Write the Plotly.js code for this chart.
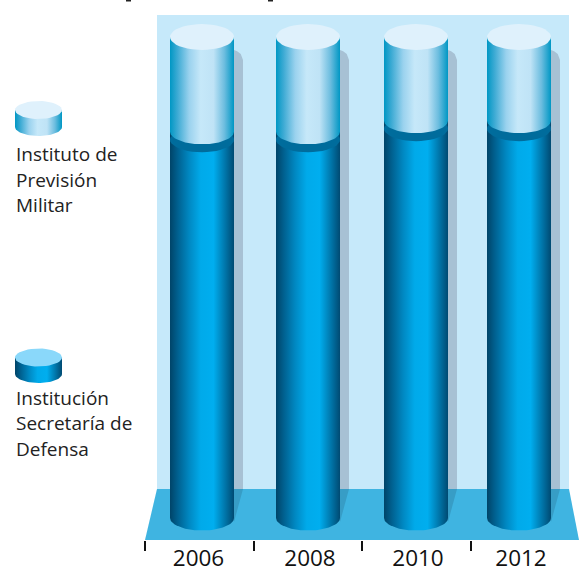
<!DOCTYPE html>
<html><head><meta charset="utf-8">
<script src="https://cdn.plot.ly/plotly-3.0.1.min.js"></script>
<style>html,body{margin:0;padding:0;background:#fff}#c{width:579px;height:567px}</style>
</head><body><div id="c"></div>
<script>
// Data (share of each institution, %)
const years = ['2006','2008','2010','2012'];
const sedena = [80.3,80.3,82.6,82.6];
const ipm = [19.7,19.7,17.4,17.4];
const seriesNames = ['Institución Secretaría de Defensa','Instituto de Previsión Militar'];
const legendLines1 = ['Instituto de','Previsión','Militar'];
const legendLines2 = ['Institución','Secretaría de','Defensa'];

// Layout constants
const W=579,H=567;
const slotX=[202,308,416,519];
const tickX=[145,254,362,471];
const labelX=[198.5,310,418,521];
const halfW=32;
const PXU=4.81, Y0=518;              // pixels per unit, pixel of value 0
const yPx=v=>Y0-v*PXU, pxY=p=>(Y0-p)/PXU;
const ry=12.5/PXU;

const lowGrad=[[0,'#004468'],[0.12,'#00608f'],[0.3,'#0088c2'],[0.48,'#00aaea'],[0.68,'#00aeef'],[0.86,'#0076aa'],[1,'#004a72']];
const upGrad=[[0,'#0097c4'],[0.12,'#3eabd4'],[0.3,'#9ad2ee'],[0.48,'#c6e8f9'],[0.68,'#bfe3f6'],[0.85,'#6cbddf'],[1,'#0097c4']];

function arc(cx,cy,rxv,ryv,a0,a1){const xs=[],ys=[];for(let i=0;i<=40;i++){const t=a0+(a1-a0)*i/40;xs.push(cx+rxv*Math.cos(t));ys.push(cy+ryv*Math.sin(t));}return [xs,ys];}
function poly(xs,ys,color,grad,x0,x1){const t={type:'scatter',mode:'lines',x:xs,y:ys,fill:'toself',line:{width:0},hoverinfo:'skip',showlegend:false};
  if(grad){t.fillgradient={type:'horizontal',colorscale:grad,start:x0,stop:x1};}else{t.fillcolor=color;}return t;}
function body(cx,b,a,r,ryv,grad){const [xs,ys]=arc(cx,b,r,ryv,Math.PI,2*Math.PI);
  xs.push(cx+r,cx-r,cx-r);ys.push(a,a,b);return poly(xs,ys,null,grad,cx-r,cx+r);}
function ell(cx,cy,r,ryv,color){const [xs,ys]=arc(cx,cy,r,ryv,0,2*Math.PI);return poly(xs,ys,color);}

const traces=[];
// real stacked bars beneath the shaded cylinders
traces.push({type:'bar',x:slotX,y:sedena,width:halfW*2,marker:{color:'#00aeef',line:{width:0}},name:seriesNames[0],textposition:'none',hoverinfo:'skip',showlegend:false});
traces.push({type:'bar',x:slotX,y:ipm,base:sedena,width:halfW*2,marker:{color:'#c6e8f9',line:{width:0}},name:seriesNames[1],textposition:'none',hoverinfo:'skip',showlegend:false});

const floorY=pxY(489);
years.forEach((yr,i)=>{
  const cx=slotX[i],tot=sedena[i]+ipm[i],r=halfW;
  const xR=cx+r, s=9;
  const sTop=tot-(13/PXU);
  const sx=[xR,xR+s*0.35,xR+s*0.75,xR+s,xR+s,xR],sy=[sTop,sTop-1.2/PXU,sTop-4/PXU,sTop-10/PXU,floorY,floorY];
  traces.push(poly(sx,sy,'#a7c1d4'));
  traces.push(poly([xR,xR+s,xR],[floorY,floorY,pxY(522)],'#379dc6'));
  const bnd=sedena[i];
  traces.push(body(cx,0,bnd,r,ry,lowGrad));
  traces.push(ell(cx,bnd-8/PXU,r,ry,'#006c9c'));
  traces.push(body(cx,bnd,tot,r,ry,upGrad));
  traces.push(ell(cx,tot,r,ry+0.5/PXU,'#dff1fc'));
});

function swatch(cx,topPx,h,capCol,grad){
  const top=pxY(topPx),b=pxY(topPx+h),r2=23.5,ry2=9/PXU;
  traces.push(body(cx,b,top,r2,ry2,grad));
  traces.push(ell(cx,top,r2,ry2,capCol));
}
swatch(38.5,110,17,'#dff1fc',upGrad);
swatch(38.5,357.5,16.5,'#8ad8fa',lowGrad);

const P=(x,y)=>[x/W,1-y/H];
const pathOf=pts=>'M'+pts.map(p=>p[0]+','+p[1]).join('L')+'Z';
const shapes=[
 {type:'rect',xref:'paper',yref:'paper',x0:157/W,x1:569/W,y0:1-489/H,y1:1-15/H,fillcolor:'#c6e9fa',line:{width:0},layer:'below'},
 {type:'path',xref:'paper',yref:'paper',path:pathOf([P(157,489),P(569,489),P(579,540),P(145,540)]),fillcolor:'#3fb4e1',line:{width:0},layer:'below'},
 {type:'rect',xref:'paper',yref:'paper',x0:126/W,x1:131/W,y0:1-1.5/H,y1:1,fillcolor:'#222',line:{width:0},layer:'below'},
 {type:'rect',xref:'paper',yref:'paper',x0:268/W,x1:273/W,y0:1-1.5/H,y1:1,fillcolor:'#222',line:{width:0},layer:'below'}
];
const annos=[];
const addLines=(lines,y0)=>lines.forEach((t,i)=>annos.push({xref:'paper',yref:'paper',x:13.5/W,y:1-(y0+i*25.5)/H,xanchor:'left',yanchor:'middle',text:t,showarrow:false,align:'left',font:{family:'Open Sans',size:19,color:'#222'}}));
addLines(legendLines1,154);
addLines(legendLines2,397.5);

traces.push({type:'scatter',x:[0],y:[0],xaxis:'x2',mode:'markers',marker:{opacity:0},hoverinfo:'skip',showlegend:false});
traces.push({type:'scatter',x:[0],y:[0],xaxis:'x3',mode:'markers',marker:{opacity:0},hoverinfo:'skip',showlegend:false});

Plotly.newPlot('c',traces,{
 width:W,height:H,margin:{l:0,r:0,t:0,b:0},paper_bgcolor:'#fff',plot_bgcolor:'rgba(0,0,0,0)',showlegend:false,
 barmode:'overlay',
 xaxis:{range:[0,W],domain:[0,1],visible:false,fixedrange:true},
 xaxis2:{overlaying:'x',anchor:'free',position:1-540/H,range:[0,W],side:'bottom',showline:false,showgrid:false,zeroline:false,
   tickmode:'array',tickvals:labelX,ticktext:years,ticklen:0,tickfont:{family:'Open Sans',size:22.5,weight:500,color:'#111'},ticklabelstandoff:2,fixedrange:true},
 xaxis3:{overlaying:'x',anchor:'free',position:1-540/H,range:[0,W],side:'bottom',showline:false,showgrid:false,zeroline:false,
   tickmode:'array',tickvals:tickX,ticktext:['','','',''],ticks:'outside',ticklen:10,tickwidth:2,tickcolor:'#111',fixedrange:true},
 yaxis:{range:[pxY(H),pxY(0)],domain:[0,1],visible:false,fixedrange:true},
 shapes:shapes,annotations:annos
},{staticPlot:true});
</script></body></html>
